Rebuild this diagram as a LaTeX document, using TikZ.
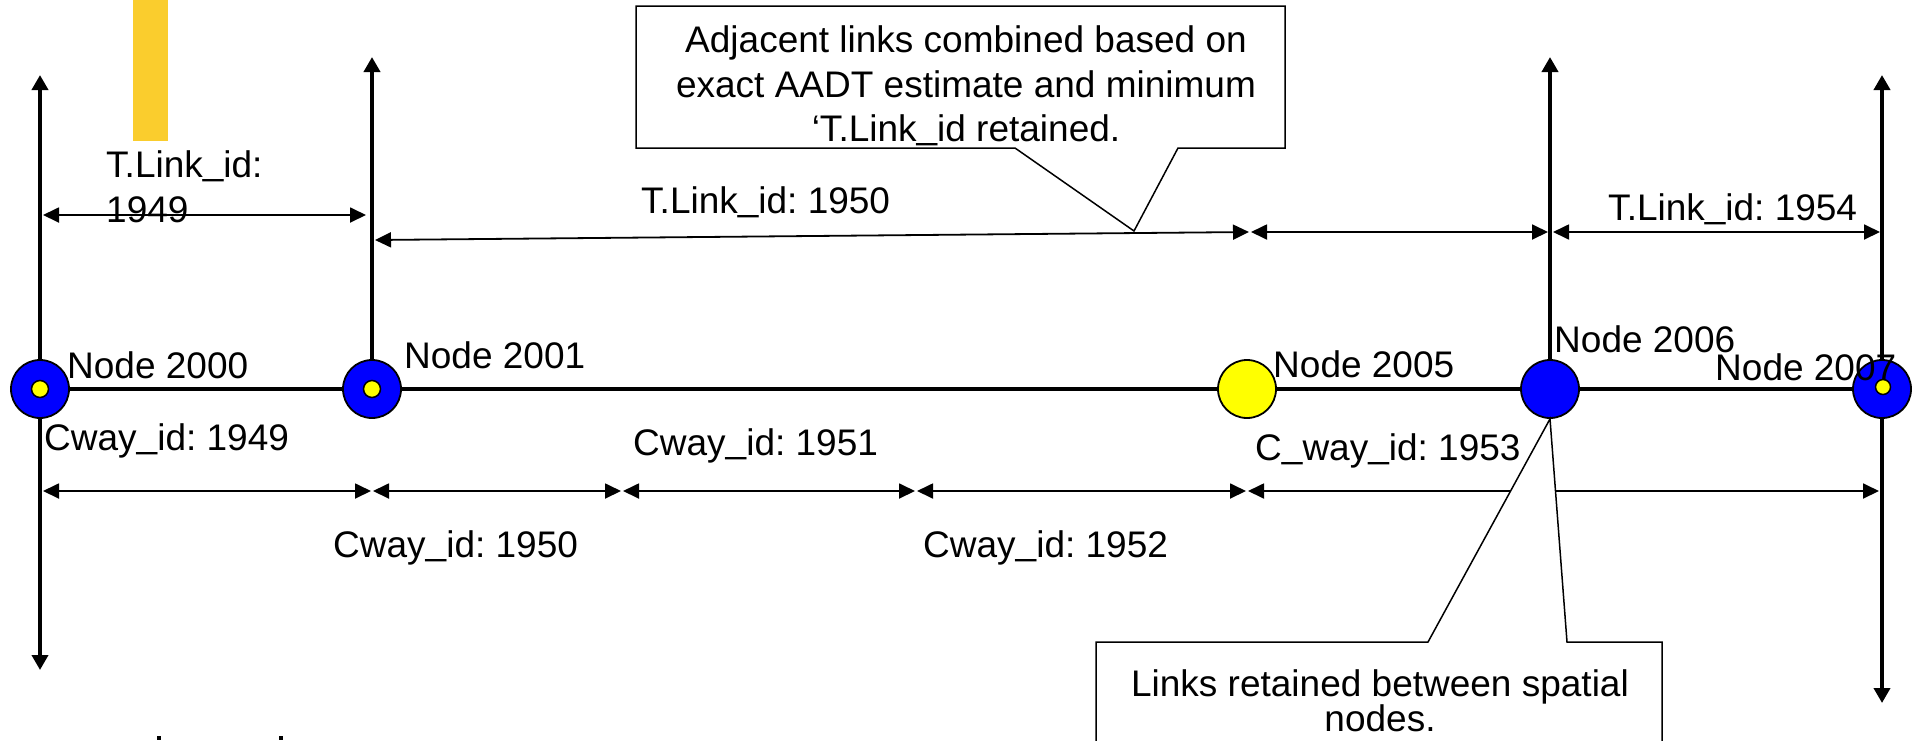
\documentclass[tikz,border=0pt]{standalone}
\usepackage{fontspec}
\setmainfont{Liberation Sans}
\usetikzlibrary{arrows.meta,backgrounds}
\definecolor{nodeblue}{RGB}{0,0,255}
\definecolor{nodeyellow}{RGB}{255,255,0}
\definecolor{bargold}{RGB}{250,205,45}
% underscore sitting a little closer to the baseline
\newcommand\usc{\raisebox{2.5pt}{\_}}

\begin{document}
\frenchspacing
\begin{tikzpicture}[x=1pt,y=-1pt,
  every node/.style={font=\fontsize{37}{45}\selectfont\frenchspacing, inner sep=0pt},
  road/.style={line width=4.3pt},
  uptip/.style={-{Triangle[length=15pt,width=16pt]}},
  bothtips/.style={{Triangle[length=15pt,width=16pt]}-{Triangle[length=15pt,width=16pt]}},
  dim/.style={line width=1.8pt,{Triangle[length=16pt,width=15pt]}-{Triangle[length=16pt,width=15pt]}},
  spatial/.style={circle,draw,line width=1.8pt,fill=nodeblue,minimum size=58pt},
  plainnode/.style={circle,draw,line width=1.8pt,fill=nodeyellow,minimum size=58pt},
  hub/.style={circle,draw,line width=1.5pt,fill=nodeyellow,minimum size=17pt},
  lbl/.style={anchor=base west},
  callout/.style={draw,line width=1.5pt,fill=white}]

\useasboundingbox (0,0) rectangle (1914,740);

% yellow bar at the top left
\fill[bargold] (133,0) rectangle (168,141);

% road nodes
\node[spatial] (n2000) at (40,389) {};
\node[hub] (d2000) at (n2000.center) {};
\node[spatial] (n2001) at (372,389) {};
\node[hub] (d2001) at (n2001.center) {};
\node[plainnode] (n2005) at (1247,389) {};
\node[spatial] (n2006) at (1550,389) {};
\node[spatial] (n2007) at (1882,389) {};
\node[hub,minimum size=15pt] (d2007) at (1883,387) {};

% free ends of the cross streets
\coordinate (t2000) at (40,75);
\coordinate (b2000) at (40,670);
\coordinate (t2001) at (372,57);
\coordinate (t2006) at (1550,57);
\coordinate (t2007) at (1882,75);
\coordinate (b2007) at (1882,703);

\begin{scope}[on background layer]
  \draw[road] (n2000.center) -- (n2007.center);
  \draw[road,bothtips] (b2000) -- (t2000);
  \draw[road,uptip] (n2001.center) -- (t2001);
  \draw[road,uptip] (n2006.center) -- (t2006);
  \draw[road,bothtips] (b2007) -- (t2007);
\end{scope}

% T.Link extents
\coordinate (a1l) at (43,215);   \coordinate (a1r) at (366,215);
\coordinate (a2l) at (375,240);  \coordinate (a2r) at (1249,232);
\coordinate (a3l) at (1251,232); \coordinate (a3r) at (1548,232);
\coordinate (a4l) at (1553,232); \coordinate (a4r) at (1880,232);
\draw[dim] (a1l) -- (a1r);
\draw[dim] (a2l) -- (a2r);
\draw[dim] (a3l) -- (a3r);
\draw[dim] (a4l) -- (a4r);

% Cway extents
\coordinate (c1l) at (43,491);   \coordinate (c1r) at (371,491);
\coordinate (c2l) at (373,491);  \coordinate (c2r) at (621,491);
\coordinate (c3l) at (623,491);  \coordinate (c3r) at (915,491);
\coordinate (c4l) at (917,491);  \coordinate (c4r) at (1246,491);
\coordinate (c5l) at (1248,491); \coordinate (c5r) at (1879,491);
\draw[dim] (c1l) -- (c1r);
\draw[dim] (c2l) -- (c2r);
\draw[dim] (c3l) -- (c3r);
\draw[dim] (c4l) -- (c4r);
\draw[dim] (c5l) -- (c5r);

% callout about combined links
\coordinate (tipA) at (1134,231);
\draw[callout] (636,6) -- (1285,6) -- (1285,148) -- (1178,148) -- (tipA)
  -- (1015,148) -- (636,148) -- cycle;
\node[anchor=base] (noteA1) at (966,52) {Adjacent links combined based on};
\node[anchor=base] (noteA2) at (966,97) {exact AADT estimate and minimum};
\node[anchor=base] (noteA3) at (966,141) {‘T.Link\usc id retained.};

% callout about retained links
\draw[callout] (1096,748) -- (1096,642) -- (1428,642) -- (n2006.south)
  -- (1567,642) -- (1662,642) -- (1662,748);
\node[anchor=base] (noteB1) at (1380,696) {Links retained between spatial};
\node[anchor=base] (noteB2) at (1380,731) {nodes.};

% labels
\node[lbl] (tl1949a) at (106,177) {T.Link\usc id:};
\node[lbl] (tl1949b) at (106,222) {1949};
\node[lbl] (tl1950) at (641,213) {T.Link\usc id: 1950};
\node[lbl] (tl1954) at (1608,220) {T.Link\usc id: 1954};

\node[lbl] (ln2000) at (67,378) {Node 2000};
\node[lbl] (ln2001) at (404,368) {Node 2001};
\node[lbl] (ln2005) at (1273,377) {Node 2005};
\node[lbl] (ln2006) at (1554,352) {Node 2006};
\node[lbl] (ln2007) at (1715,380) {Node 2007};

\node[lbl] (cw1949) at (44,450) {Cway\usc id: 1949};
\node[lbl] (cw1950) at (333,557) {Cway\usc id: 1950};
\node[lbl] (cw1951) at (633,455) {Cway\usc id: 1951};
\node[lbl] (cw1952) at (923,557) {Cway\usc id: 1952};
\node[lbl] (cw1953) at (1255,460) {C\usc way\usc id: 1953};

% marks at the lower edge
\fill (157,736) rectangle (161,740);
\fill (279,736) rectangle (283,740);
\end{tikzpicture}
\end{document}
